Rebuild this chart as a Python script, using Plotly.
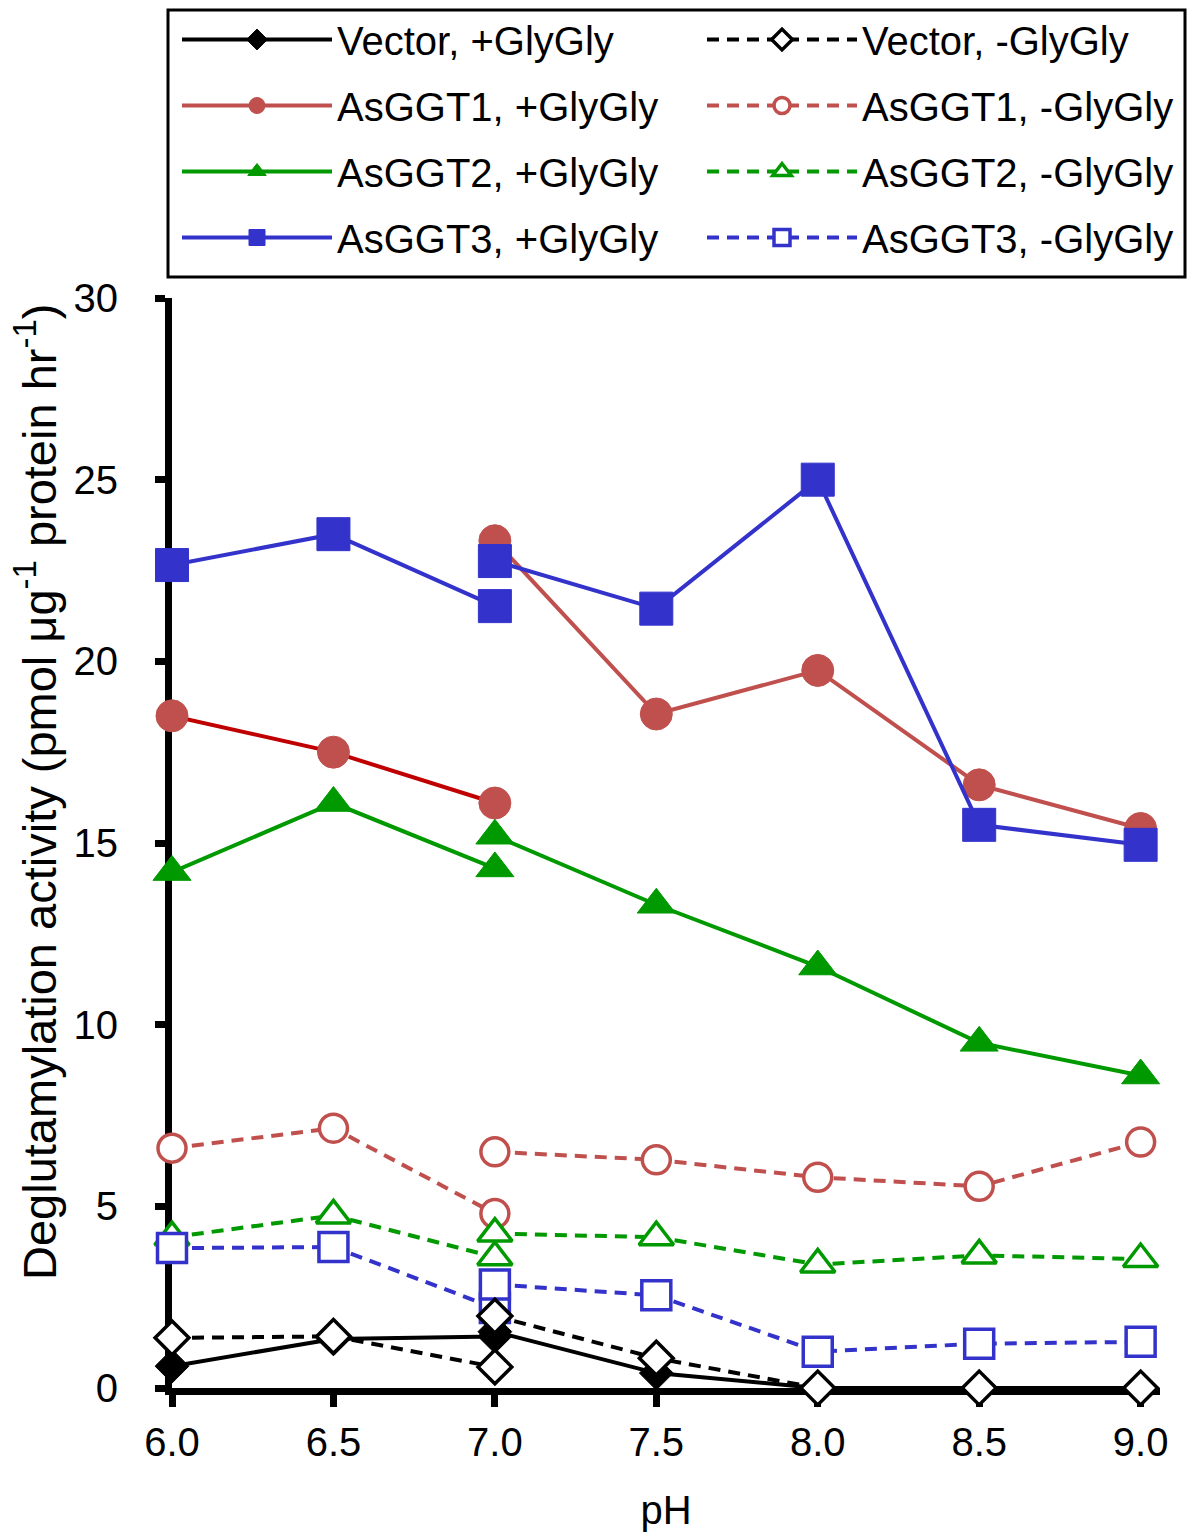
import plotly.graph_objects as go

# ---- data ----
ph_buffer1 = [6.0, 6.5, 7.0]
ph_buffer2 = [7.0, 7.5, 8.0, 8.5, 9.0]

vector_plus_1 = [0.6, 1.35, 1.42]
vector_plus_2 = [1.55, 0.41, 0.0, 0.0, 0.0]
vector_minus_1 = [1.38, 1.42, 0.58]
vector_minus_2 = [1.98, 0.82, 0.0, 0.0, 0.0]

asggt1_plus_1 = [18.5, 17.5, 16.1]
asggt1_plus_2 = [23.32, 18.55, 19.75, 16.6, 15.4]
asggt1_minus_1 = [6.6, 7.15, 4.8]
asggt1_minus_2 = [6.5, 6.28, 5.8, 5.55, 6.77]

asggt2_plus_1 = [14.2, 16.1, 14.3]
asggt2_plus_2 = [15.2, 13.3, 11.6, 9.5, 8.6]
asggt2_minus_1 = [4.15, 4.75, 3.6]
asggt2_minus_2 = [4.25, 4.15, 3.4, 3.65, 3.55]

asggt3_plus_1 = [22.65, 23.5, 21.52]
asggt3_plus_2 = [22.76, 21.45, 25.0, 15.5, 14.95]
asggt3_minus_1 = [3.85, 3.88, 2.2]
asggt3_minus_2 = [2.85, 2.55, 1.0, 1.22, 1.27]

y_ticks = [0, 5, 10, 15, 20, 25, 30]
x_ticks = [6.0, 6.5, 7.0, 7.5, 8.0, 8.5, 9.0]

FONT = "Liberation Sans, Arial, sans-serif"
BLACK = "#000000"
RED = "#C0504D"
DARKRED = "#C00000"
GREEN = "#009900"
BLUE = "#3333CC"


def joined(a, b):
    return ph_buffer1 + [None] + ph_buffer2, a + [None] + b


fig = go.Figure()


def add(name, y1, y2, color, symbol, size, filled, dash, legend, rank,
        showlegend=True, xs=None, ys=None, linecolor=None):
    if xs is None:
        xs, ys = joined(y1, y2)
    if filled:
        marker = dict(symbol=symbol, size=size, color=color,
                      line=dict(width=1, color=color))
    else:
        marker = dict(symbol=symbol, size=size, color="white",
                      line=dict(width=3.5, color=color))
    fig.add_trace(go.Scatter(
        x=xs, y=ys, name=name, mode="lines+markers",
        line=dict(color=linecolor or color, width=4, dash=dash),
        marker=marker, connectgaps=False, cliponaxis=False,
        legend=legend, legendgroup=name, legendrank=rank,
        showlegend=showlegend,
    ))


SOLID = "solid"
DASH = "12px,8px"

add("Vector, +GlyGly", vector_plus_1, vector_plus_2, BLACK, "diamond", 26, True, SOLID, "legend", 1)
# AsGGT1 +GlyGly: first buffer segment drawn with a darker red line
add("AsGGT1, +GlyGly", None, None, RED, "circle", 32, True, SOLID, "legend", 2,
    showlegend=False, xs=ph_buffer1, ys=asggt1_plus_1, linecolor=DARKRED)
add("AsGGT1, +GlyGly", None, None, RED, "circle", 32, True, SOLID, "legend", 2,
    xs=ph_buffer2, ys=asggt1_plus_2)
add("AsGGT2, +GlyGly", asggt2_plus_1, asggt2_plus_2, GREEN, "triangle-up", 33, True, SOLID, "legend", 3)
add("AsGGT3, +GlyGly", asggt3_plus_1, asggt3_plus_2, BLUE, "square", 33, True, SOLID, "legend", 4)
add("AsGGT1, -GlyGly", asggt1_minus_1, asggt1_minus_2, RED, "circle", 28, False, DASH, "legend2", 2)
add("AsGGT2, -GlyGly", asggt2_minus_1, asggt2_minus_2, GREEN, "triangle-up", 30, False, DASH, "legend2", 3)
add("AsGGT3, -GlyGly", asggt3_minus_1, asggt3_minus_2, BLUE, "square", 29, False, DASH, "legend2", 4)
add("Vector, -GlyGly", vector_minus_1, vector_minus_2, BLACK, "diamond", 26, False, DASH, "legend2", 1)

# figure geometry (page has an 8px body margin)
OFF = 8
W, H = 1192, 1531
L, T = 172 - OFF, 298 - OFF
PR, PB = 1160 - OFF, 1388 - OFF
R, B = W - PR, H - PB
pw, ph = PR - L, PB - T


def px_x(p):
    return (p - OFF - L) / pw


def px_y(p):
    return (PB - (p - OFF)) / ph


legend_common = dict(
    font=dict(family=FONT, size=40, color="black"),
    bgcolor="rgba(0,0,0,0)", borderwidth=0,
    orientation="v", itemwidth=150, tracegroupgap=11,
    traceorder="grouped", xanchor="left", yanchor="top",
    itemclick=False, itemdoubleclick=False,
)

fig.update_layout(
    width=W, height=H,
    margin=dict(l=L, r=R, t=T, b=B, autoexpand=False),
    paper_bgcolor="white", plot_bgcolor="white",
    font=dict(family=FONT, size=40, color="black"),
    legend=dict(x=px_x(177), y=px_y(7), **legend_common),
    legend2=dict(x=px_x(702), y=px_y(7), **legend_common),
    xaxis=dict(
        range=[6.0, 9.06], tickvals=x_ticks, tickformat=".1f",
        showline=True, linewidth=7, linecolor="black",
        ticks="outside", ticklen=12, tickwidth=7, tickcolor="black",
        showgrid=False, zeroline=False, layer="below traces",
        tickfont=dict(family=FONT, size=40), ticklabelstandoff=1,
        title=dict(text="pH", font=dict(family=FONT, size=40), standoff=35),
    ),
    yaxis=dict(
        range=[0, 30], tickvals=y_ticks,
        showline=True, linewidth=7, linecolor="black",
        ticks="outside", ticklen=10, tickwidth=7, tickcolor="black",
        showgrid=False, zeroline=False, layer="below traces",
        tickfont=dict(family=FONT, size=40), ticklabelstandoff=29,
    ),
    shapes=[dict(
        type="rect", xref="paper", yref="paper",
        x0=px_x(168), x1=px_x(1185), y0=px_y(277), y1=px_y(10),
        line=dict(color="black", width=3), fillcolor="rgba(0,0,0,0)",
    )],
    annotations=[dict(
        text="Deglutamylation activity (pmol μg<sup>-1</sup> protein hr<sup>-1</sup>)",
        xref="paper", yref="paper", x=px_x(36), y=px_y(792),
        xanchor="center", yanchor="middle", textangle=-90, showarrow=False,
        font=dict(family=FONT, size=47, color="black"),
    )],
)

fig.write_html("out.html")
